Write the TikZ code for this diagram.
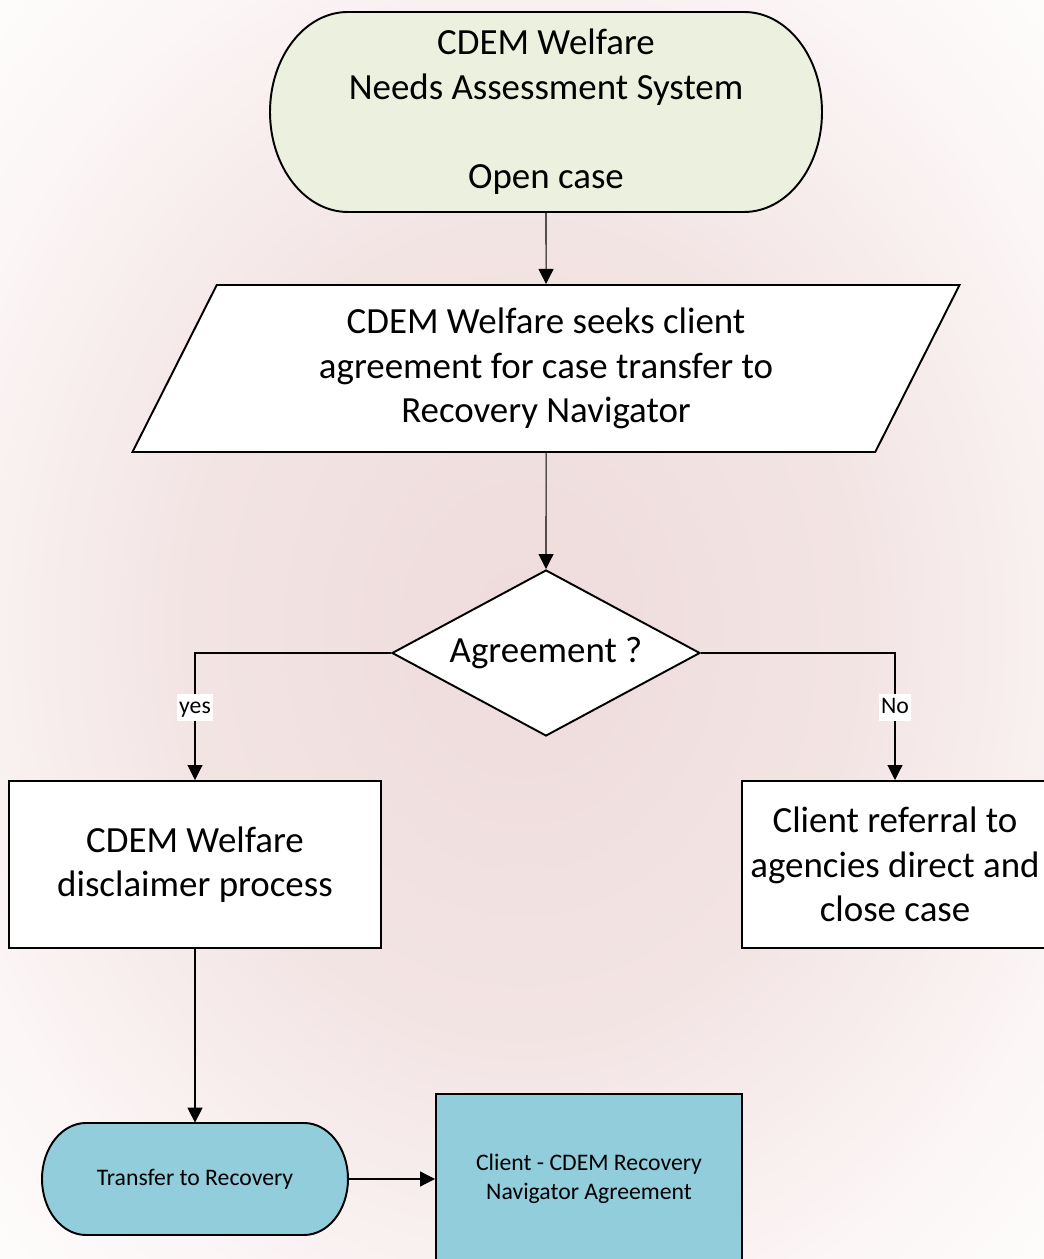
\documentclass[tikz,border=0pt]{standalone}
\usepackage{fontspec}
\setmainfont{Carlito}
\usetikzlibrary{arrows.meta,shapes.geometric}

\definecolor{startgreen}{RGB}{235,241,222}
\definecolor{navblue}{RGB}{146,205,220}
\definecolor{bgpinkA}{RGB}{239,220,220}
\definecolor{bgpinkB}{RGB}{240,222,222}
\definecolor{bgpinkC}{RGB}{243,228,228}
\definecolor{bgpinkD}{RGB}{249,240,240}
\definecolor{bgpinkE}{RGB}{252,246,246}
\definecolor{bgpinkF}{RGB}{254,252,252}
\pgfdeclareradialshading{pagebg}{\pgfpoint{0bp}{0bp}}{color(0bp)=(bgpinkA); color(5bp)=(bgpinkB); color(16bp)=(bgpinkC); color(25bp)=(bgpinkD); color(29bp)=(bgpinkE); color(36bp)=(bgpinkF)}

\begin{document}
\begin{tikzpicture}[x=0.2mm,y=0.2mm,
  bigtxt/.style={font=\fontsize{21}{25.4}\selectfont,align=center},
  smalltxt/.style={font=\fontsize{13.5}{16.5}\selectfont,align=center},
  box/.style={draw,line width=1.1pt,fill=white,inner sep=0pt},
  flow/.style={line width=0.6pt,-{Triangle[length=3mm,width=3mm]}},
  lbl/.style={fill=white,font=\fontsize{13.5}{16}\selectfont,inner xsep=1pt,inner ysep=0pt,text height=11pt,text depth=4pt}]
\useasboundingbox (0,0) rectangle (1044,1259);
\shade[shading=pagebg] (0,0) rectangle (1044,1259);

\draw[line width=1.1pt,fill=startgreen] (348,1247) -- (744,1247)
  arc[start angle=90,end angle=-90,x radius=78,y radius=100] -- (348,1047)
  arc[start angle=270,end angle=90,x radius=78,y radius=100] -- cycle;
\node[bigtxt,minimum width=110.4mm,minimum height=40mm] (start) at (546,1147)
  {CDEM Welfare\\Needs Assessment System\\[25.4pt]Open case};

\node[box,trapezium,trapezium left angle=55.2,trapezium right angle=124.8,
  trapezium stretches body,minimum width=165.4mm,minimum height=33.4mm,bigtxt] (seek) at (546,890.5)
  {CDEM Welfare seeks client\\agreement for case transfer to\\Recovery Navigator};

\node[box,diamond,shape aspect=1.855,minimum width=61.6mm,minimum height=33.2mm,bigtxt] (agree) at (546,606)
  {Agreement ?};

\node[box,bigtxt,minimum width=74.4mm,minimum height=33.4mm] (disclaim) at (195,394.5)
  {CDEM Welfare\\disclaimer process};
\node[box,bigtxt,minimum width=61.2mm,minimum height=33.4mm] (referral) at (895,394.5)
  {Client referral to\\agencies direct and\\close case};

\draw[line width=1.1pt,fill=navblue] (86,136) -- (304,136)
  arc[start angle=90,end angle=-90,x radius=44,y radius=56] -- (86,24)
  arc[start angle=270,end angle=90,x radius=44,y radius=56] -- cycle;
\node[smalltxt,minimum width=61.2mm,minimum height=22.4mm] (transfer) at (195,80)
  {Transfer to Recovery};

\node[box,fill=navblue,smalltxt,minimum width=61.2mm,minimum height=34mm] (navagree) at (589,80)
  {Client - CDEM Recovery\\Navigator Agreement};

\draw[flow] (start.south) -- (seek.north);
\draw[flow] (seek.south) -- (agree.north);
\draw[flow] (agree.west) -| node[lbl,pos=0.715] {yes} (disclaim.north);
\draw[flow] (agree.east) -| node[lbl,pos=0.715] {No} (referral.north);
\draw[flow] (disclaim.south) -- (transfer.north);
\draw[flow] (transfer.east) -- (navagree.west);
\end{tikzpicture}
\end{document}
